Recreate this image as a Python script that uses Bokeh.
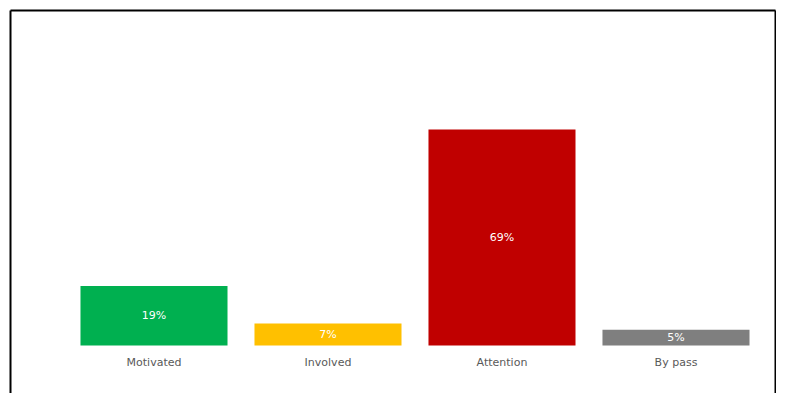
import numpy as np
from bokeh.plotting import figure
from bokeh.models import ColumnDataSource, LinearAxis, FixedTicker, Range1d
from bokeh.core.properties import value
from bokeh.embed import file_html
from bokeh.resources import INLINE

categories = ["Motivated", "Involved", "Attention", "By pass"]
values = [19, 7, 69, 5]
labels = ["19%", "7%", "69%", "5%"]
colors = ["#00B050", "#FFC000", "#C00000", "#7F7F7F"]

src = ColumnDataSource(dict(
    x=list(np.arange(len(categories))),
    cat=categories,
    top=values,
    mid=[v / 2 for v in values],
    lab=labels,
    color=colors,
))

p = figure(width=776, height=393, output_backend="svg", toolbar_location=None,
           x_axis_location=None, y_axis_location=None,
           x_range=Range1d(-0.8247, 3.5719), y_range=Range1d(-15.33, 107.0),
           min_border_left=10, min_border_right=1, min_border_top=10, min_border_bottom=0)
p.outline_line_color = None
p.grid.visible = False
p.background_fill_color = "white"
p.border_fill_color = "white"

# frame lines (left, top, right) drawn as bare axes
for loc, ax in (("left", LinearAxis()), ("right", LinearAxis()), ("above", LinearAxis())):
    ax.ticker = FixedTicker(ticks=[])
    ax.axis_line_color = "black"
    ax.axis_line_width = 2
    ax.major_tick_out = 0
    ax.major_tick_in = 0
    ax.minor_tick_out = 0
    ax.minor_tick_in = 0
    ax.major_label_standoff = 0
    p.add_layout(ax, loc)

p.vbar(x="x", top="top", bottom=0, width=0.845, fill_color="color", line_color=None, source=src)

p.text(x="x", y="mid", text="lab", text_color="white", text_font=value("DejaVu Sans"),
       text_font_size="11px", text_align="center", text_baseline="middle", source=src)

p.text(x="x", y=0, text="cat", text_color="#595959", text_font=value("DejaVu Sans"),
       text_font_size="11px", text_align="center", text_baseline="middle", y_offset=17,
       source=src)

open("out.html", "w").write(file_html(p, INLINE))
